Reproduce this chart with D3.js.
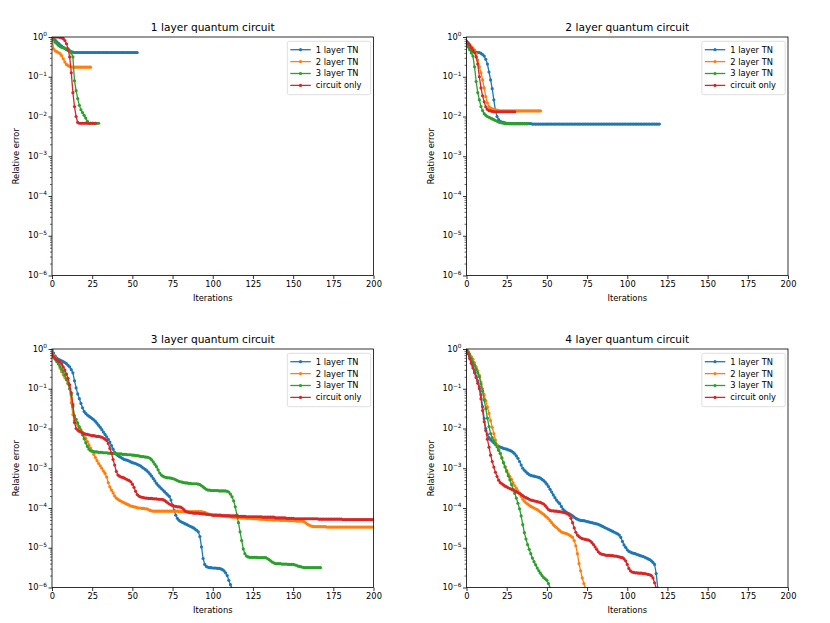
<!DOCTYPE html>
<html>
<head>
<meta charset="utf-8">
<script src="https://cdn.jsdelivr.net/npm/d3@7"></script>
<style>
body { margin: 0; background: #fff; }
text { font-family: "DejaVu Sans", sans-serif; fill: #000; }
</style>
</head>
<body>
<div id="chart"></div>
<script>
// log10 of relative error, one value per iteration (iteration = index)

// 1 layer quantum circuit
var p1_tn1 = [0,-0.04,-0.08,-0.12,-0.16,-0.2,-0.23,-0.26,-0.29,-0.32,-0.34,-0.36,-0.37,-0.38,
  -0.39,-0.39,-0.39,-0.39,-0.39,-0.39,-0.39,-0.39,-0.39,-0.39,-0.39,-0.39,-0.39,-0.39,-0.39,-0.39,
  -0.39,-0.39,-0.39,-0.39,-0.39,-0.39,-0.39,-0.39,-0.39,-0.39,-0.39,-0.39,-0.39,-0.39,-0.39,-0.39,
  -0.39,-0.39,-0.39,-0.39,-0.39,-0.39,-0.39,-0.39];
var p1_tn2 = [0,-0.3,-0.35,-0.37,-0.39,-0.42,-0.47,-0.55,-0.63,-0.69,-0.72,-0.74,-0.75,
  -0.76,-0.76,-0.76,-0.76,-0.76,-0.76,-0.76,-0.76,-0.76,-0.76,-0.76,-0.76];
var p1_tn3 = [0,-0.07,-0.13,-0.17,-0.21,-0.24,-0.26,-0.27,-0.28,-0.3,-0.32,-0.34,-0.4,-0.5,
  -1.1,-1.35,-1.55,-1.72,-1.83,-1.9,-1.97,-2.04,-2.12,-2.17,-2.17,-2.17,-2.17,-2.17,-2.17,-2.17];
var p1_circ = [0,0,0,0,0,-0.01,-0.02,-0.04,-0.09,-0.17,-0.3,-0.5,-0.9,-1.4,-1.75,-2.0,-2.15,
  -2.17,-2.17,-2.17,-2.17,-2.17,-2.17,-2.17,-2.17,-2.17,-2.17,-2.17];

// 2 layer quantum circuit
var p2_tn1 = [-0.12,-0.2,-0.27,-0.32,-0.36,-0.37,-0.38,-0.39,-0.39,-0.41,-0.44,-0.48,-0.56,-0.68,
  -0.88,-1.08,-1.3,-1.58,-1.85,-2.0,-2.08,-2.12,-2.14,-2.15,-2.16,-2.17,-2.17,-2.18,
  -2.18,-2.18,-2.18,-2.18,-2.18,-2.18,-2.18,-2.18,-2.18,-2.18,-2.18,-2.18,-2.18,
  -2.19,-2.19,-2.19,-2.19,-2.19,-2.19,-2.19,-2.19,-2.19,-2.19,-2.19,-2.19,-2.19,-2.19,-2.19,-2.19,
  -2.19,-2.19,-2.19,-2.19,-2.19,-2.19,-2.19,-2.19,-2.19,-2.19,-2.19,-2.19,-2.19,-2.19,-2.19,-2.19,
  -2.19,-2.19,-2.19,-2.19,-2.19,-2.19,-2.19,-2.19,-2.19,-2.19,-2.19,-2.19,-2.19,-2.19,-2.19,-2.19,
  -2.19,-2.19,-2.19,-2.19,-2.19,-2.19,-2.19,-2.19,-2.19,-2.19,-2.19,-2.19,-2.19,-2.19,-2.19,-2.19,
  -2.19,-2.19,-2.19,-2.19,-2.19,-2.19,-2.19,-2.19,-2.19,-2.19,-2.19,-2.19,-2.19,-2.19,-2.19,-2.19];
var p2_tn2 = [-0.1,-0.15,-0.2,-0.24,-0.28,-0.33,-0.42,-0.58,-0.75,-0.9,-1.08,-1.28,-1.5,-1.66,
  -1.75,-1.79,-1.81,-1.82,-1.83,-1.84,-1.85,-1.86,-1.86,-1.86,-1.86,-1.86,-1.86,-1.86,-1.86,
  -1.86,-1.86,-1.86,-1.86,-1.86,-1.86,-1.86,-1.86,-1.86,-1.86,-1.86,-1.86,-1.86,-1.86,-1.86,
  -1.86,-1.86,-1.86];
var p2_tn3 = [-0.15,-0.25,-0.32,-0.4,-0.48,-0.75,-1.12,-1.4,-1.58,-1.75,-1.85,-1.93,-1.97,-2.0,
  -2.02,-2.04,-2.06,-2.08,-2.1,-2.12,-2.14,-2.15,-2.16,-2.17,-2.18,-2.18,-2.18,-2.18,-2.18,
  -2.18,-2.18,-2.18,-2.18,-2.18,-2.18,-2.18,-2.18,-2.18,-2.18];
var p2_circ = [-0.1,-0.15,-0.2,-0.27,-0.33,-0.39,-0.5,-0.68,-1.0,-1.28,-1.48,-1.63,-1.76,-1.82,
  -1.85,-1.86,-1.87,-1.88,-1.88,-1.88,-1.88,-1.88,-1.88,-1.88,-1.88,-1.88,-1.88,-1.88,-1.88,
  -1.88,-1.88];

// 3 layer quantum circuit
var p3_tn1 = [-0.03,-0.1,-0.18,-0.23,-0.26,-0.28,-0.3,-0.32,-0.34,-0.37,-0.41,-0.45,-0.52,-0.6,
  -0.8,-0.98,-1.13,-1.25,-1.37,-1.48,-1.57,-1.62,-1.66,-1.69,-1.72,-1.75,-1.78,-1.82,-1.87,
  -1.92,-1.97,-2.03,-2.09,-2.15,-2.21,-2.27,-2.34,-2.43,-2.52,-2.6,-2.65,-2.68,-2.71,-2.73,
  -2.76,-2.78,-2.79,-2.8,-2.82,-2.84,-2.86,-2.87,-2.88,-2.9,-2.92,-2.94,-2.97,-3.0,-3.03,
  -3.06,-3.1,-3.15,-3.2,-3.26,-3.32,-3.38,-3.43,-3.47,-3.51,-3.55,-3.59,-3.63,-3.67,-3.71,
  -3.8,-3.93,-4.06,-4.18,-4.26,-4.31,-4.34,-4.36,-4.38,-4.4,-4.42,-4.44,-4.46,-4.48,-4.5,
  -4.53,-4.56,-4.6,-4.72,-4.98,-5.27,-5.42,-5.47,-5.49,-5.5,-5.5,-5.51,-5.51,-5.51,-5.52,
  -5.52,-5.53,-5.55,-5.58,-5.63,-5.7,-5.82,-5.93,-6.03];
var p3_tn2 = [-0.1,-0.15,-0.22,-0.29,-0.38,-0.48,-0.57,-0.65,-0.72,-0.78,-0.88,-1.0,-1.35,-1.65,
  -1.8,-1.86,-1.92,-1.98,-2.03,-2.1,-2.18,-2.25,-2.33,-2.41,-2.49,-2.57,-2.65,-2.73,-2.81,
  -2.88,-2.94,-3.0,-3.07,-3.13,-3.22,-3.36,-3.47,-3.55,-3.62,-3.7,-3.75,-3.78,-3.81,-3.83,
  -3.85,-3.87,-3.89,-3.91,-3.93,-3.95,-3.96,-3.97,-3.98,-3.99,-4.0,-4.0,-4.01,-4.01,-4.02,
  -4.02,-4.04,-4.06,-4.07,-4.08,
  -4.08,-4.08,-4.08,-4.08,-4.08,-4.08,-4.08,-4.08,-4.08,-4.08,-4.08,-4.08,-4.08,-4.08,-4.08,
  -4.09,-4.09,-4.09,-4.09,-4.09,-4.09,-4.09,-4.09,-4.09,-4.09,-4.09,-4.09,-4.09,-4.09,-4.09,
  -4.1,-4.11,-4.13,-4.15,-4.16,-4.17,-4.18,
  -4.18,-4.18,-4.19,-4.19,-4.2,-4.2,-4.21,-4.21,-4.22,-4.22,-4.22,-4.23,-4.23,-4.23,-4.24,-4.24,
  -4.25,-4.25,-4.25,-4.25,-4.26,-4.26,-4.26,-4.26,-4.27,-4.27,-4.27,-4.27,-4.28,-4.28,-4.28,-4.28,
  -4.29,-4.29,-4.29,-4.29,-4.3,-4.3,-4.3,-4.3,-4.3,-4.31,-4.31,-4.31,-4.31,-4.31,
  -4.32,-4.32,-4.32,-4.32,-4.32,-4.33,-4.33,-4.33,-4.33,-4.33,
  -4.35,-4.38,-4.41,-4.43,-4.45,-4.46,
  -4.47,-4.47,-4.47,-4.47,-4.47,-4.47,-4.47,-4.47,
  -4.48,-4.48,-4.48,-4.48,-4.48,-4.48,-4.48,-4.48,-4.48,-4.48,-4.48,-4.48,-4.48,-4.48,-4.48,
  -4.48,-4.48,-4.48,-4.48,-4.48,-4.48,-4.48,-4.48,-4.48,-4.48,-4.48,-4.48,-4.48,-4.48,-4.48];
var p3_tn3 = [-0.14,-0.2,-0.26,-0.32,-0.37,-0.44,-0.51,-0.57,-0.66,-0.76,-0.86,-1.0,-1.15,-1.45,
  -1.68,-1.77,-1.86,-1.96,-2.06,-2.16,-2.26,-2.36,-2.45,-2.52,-2.56,-2.57,-2.58,-2.59,-2.59,
  -2.6,-2.6,-2.6,-2.61,-2.61,-2.61,-2.62,-2.62,-2.62,-2.63,-2.63,-2.63,-2.64,-2.64,-2.64,
  -2.65,-2.65,-2.65,-2.66,-2.66,-2.66,-2.67,-2.67,-2.68,-2.68,-2.69,-2.7,-2.71,-2.71,-2.72,
  -2.72,-2.73,-2.75,-2.79,-2.84,-2.9,-2.96,-3.04,-3.12,-3.17,-3.2,-3.22,-3.23,-3.24,-3.24,
  -3.25,-3.26,-3.27,-3.29,-3.31,-3.33,-3.34,-3.35,-3.36,-3.37,-3.37,-3.38,-3.38,-3.39,-3.39,
  -3.39,-3.39,-3.4,-3.41,-3.44,-3.47,-3.5,-3.53,-3.55,-3.55,-3.56,-3.56,-3.56,-3.56,-3.56,
  -3.57,-3.57,-3.57,-3.57,-3.57,-3.58,-3.6,-3.65,-3.72,-3.82,-3.97,-4.17,-4.37,-4.6,-4.82,
  -5.03,-5.15,-5.21,-5.23,-5.24,
  -5.24,-5.24,-5.24,-5.24,-5.25,-5.25,-5.25,-5.25,-5.25,-5.25,
  -5.27,-5.3,-5.33,-5.36,-5.38,-5.4,
  -5.4,-5.4,-5.4,-5.41,-5.41,-5.41,-5.41,-5.42,-5.42,-5.42,-5.42,
  -5.43,-5.44,-5.46,-5.47,-5.48,-5.49,
  -5.5,-5.5,-5.5,-5.5,-5.5,-5.5,-5.5,-5.5,-5.5,-5.5,-5.5];
var p3_circ = [-0.11,-0.2,-0.24,-0.27,-0.3,-0.32,-0.38,-0.45,-0.53,-0.63,-0.74,-0.9,-1.1,-1.4,
  -1.85,-2.0,-2.04,-2.07,-2.09,-2.11,-2.13,-2.14,-2.15,-2.16,-2.17,-2.18,-2.18,-2.19,-2.2,
  -2.2,-2.21,-2.22,-2.24,-2.27,-2.3,-2.38,-2.5,-2.62,-2.78,-2.92,-3.08,-3.17,-3.2,-3.22,
  -3.23,-3.25,-3.27,-3.29,-3.31,-3.34,-3.4,-3.48,-3.58,-3.66,-3.7,-3.72,-3.73,-3.74,-3.75,
  -3.75,-3.76,-3.76,-3.76,-3.77,-3.77,-3.77,-3.78,-3.78,-3.78,-3.79,-3.81,-3.84,-3.87,-3.9,
  -3.92,-3.94,-3.95,-3.96,-3.97,-3.97,-3.98,-4.0,-4.04,-4.08,-4.1,-4.11,-4.12,-4.12,-4.13,
  -4.13,-4.13,-4.13,-4.14,-4.14,-4.15,-4.15,-4.16,-4.16,-4.17,-4.17,-4.18,
  -4.18,-4.18,-4.18,-4.18,-4.18,-4.19,-4.19,-4.19,-4.19,-4.19,
  -4.2,-4.2,-4.2,-4.2,-4.2,-4.21,-4.21,-4.21,-4.21,-4.21,
  -4.22,-4.22,-4.22,-4.22,-4.22,-4.22,-4.22,-4.22,-4.22,-4.22,
  -4.23,-4.23,-4.23,-4.23,-4.23,-4.23,-4.23,-4.23,
  -4.25,-4.25,-4.25,-4.25,-4.25,-4.25,-4.25,-4.26,-4.26,-4.26,-4.26,-4.26,
  -4.27,-4.27,-4.27,-4.27,-4.27,-4.27,-4.27,-4.27,-4.27,-4.27,-4.27,-4.27,-4.27,-4.27,-4.27,
  -4.28,-4.28,-4.28,-4.28,-4.28,-4.28,-4.28,-4.28,-4.28,-4.28,-4.28,-4.28,-4.28,-4.28,-4.28,
  -4.29,-4.29,-4.29,-4.29,-4.29,-4.29,-4.29,-4.29,-4.29,-4.29,
  -4.29,-4.29,-4.29,-4.29,-4.29,-4.29,-4.29,-4.29,-4.29,-4.29];

// 4 layer quantum circuit
var p4_tn1 = [0,-0.08,-0.18,-0.3,-0.42,-0.55,-0.68,-0.8,-0.95,-1.15,-1.45,-1.75,-2.0,-2.15,
  -2.23,-2.28,-2.32,-2.36,-2.4,-2.43,-2.45,-2.47,-2.48,-2.5,-2.51,-2.52,-2.54,-2.55,-2.57,
  -2.6,-2.64,-2.69,-2.75,-2.83,-2.92,-3.0,-3.05,-3.09,-3.13,-3.16,-3.18,-3.19,-3.2,-3.21,
  -3.22,-3.23,-3.25,-3.28,-3.31,-3.35,-3.4,-3.46,-3.53,-3.6,-3.67,-3.74,-3.8,-3.85,-3.89,
  -3.96,-4.03,-4.07,-4.1,-4.13,-4.15,-4.17,-4.2,-4.23,-4.26,-4.28,-4.3,-4.31,-4.32,-4.32,
  -4.33,-4.34,-4.35,-4.36,-4.37,-4.38,-4.39,-4.4,-4.41,-4.43,-4.45,-4.47,-4.49,-4.51,-4.53,
  -4.55,-4.57,-4.59,-4.61,-4.63,-4.65,-4.68,-4.74,-4.84,-4.93,-4.99,-5.05,-5.09,-5.11,-5.13,
  -5.14,-5.15,-5.17,-5.18,-5.2,-5.21,-5.22,-5.24,-5.26,-5.28,-5.3,-5.33,-5.37,-5.42,-5.65,
  -6.02];
var p4_tn2 = [0,-0.05,-0.12,-0.19,-0.26,-0.35,-0.45,-0.55,-0.66,-0.83,-1.0,-1.15,-1.3,-1.46,
  -1.62,-1.8,-1.97,-2.13,-2.29,-2.41,-2.52,-2.62,-2.74,-2.86,-2.96,-3.05,-3.14,-3.21,-3.28,
  -3.37,-3.44,-3.5,-3.57,-3.64,-3.71,-3.78,-3.83,-3.87,-3.9,-3.93,-3.96,-3.98,-4.0,-4.02,
  -4.04,-4.07,-4.1,-4.13,-4.16,-4.2,-4.23,-4.27,-4.32,-4.37,-4.42,-4.46,-4.49,-4.53,-4.57,
  -4.6,-4.62,-4.63,-4.64,-4.66,-4.68,-4.71,-4.74,-4.82,-4.95,-5.15,-5.4,-5.58,-5.76,-5.9,
  -6.02];
var p4_tn3 = [0,-0.08,-0.15,-0.24,-0.33,-0.41,-0.5,-0.6,-0.7,-0.88,-1.06,-1.28,-1.5,-1.74,
  -1.95,-2.13,-2.23,-2.31,-2.38,-2.46,-2.55,-2.63,-2.74,-2.86,-2.97,-3.08,-3.19,-3.29,-3.41,
  -3.53,-3.63,-3.75,-3.88,-4.02,-4.2,-4.42,-4.62,-4.78,-4.92,-5.04,-5.15,-5.26,-5.35,-5.43,
  -5.51,-5.58,-5.64,-5.7,-5.75,-5.78,-5.82,-5.9,-6.02];
var p4_circ = [-0.02,-0.12,-0.24,-0.36,-0.48,-0.6,-0.72,-0.86,-1.0,-1.25,-1.55,-1.83,-2.05,
  -2.27,-2.47,-2.67,-2.83,-2.97,-3.1,-3.21,-3.3,-3.36,-3.39,-3.42,-3.45,-3.47,-3.49,-3.51,
  -3.53,-3.55,-3.57,-3.59,-3.61,-3.63,-3.66,-3.69,-3.72,-3.74,-3.76,-3.78,-3.8,-3.81,-3.82,
  -3.83,-3.84,-3.85,-3.86,-3.88,-3.9,-3.94,-3.99,-4.04,-4.06,-4.07,-4.07,-4.08,-4.08,-4.09,
  -4.09,-4.1,-4.11,-4.12,-4.13,-4.15,-4.18,-4.26,-4.37,-4.5,-4.61,-4.68,-4.72,-4.75,-4.77,
  -4.78,-4.79,-4.8,-4.81,-4.83,-4.87,-4.92,-4.98,-5.04,-5.1,-5.14,-5.16,-5.17,-5.18,-5.19,
  -5.19,-5.19,-5.2,-5.2,-5.21,-5.21,-5.22,-5.23,-5.24,-5.25,-5.28,-5.33,-5.42,-5.52,-5.58,
  -5.61,-5.62,-5.63,-5.63,-5.64,-5.64,-5.64,-5.65,-5.65,-5.66,-5.67,-5.68,-5.7,-5.76,-5.88,
  -6.02];

var titles = ["1 layer quantum circuit", "2 layer quantum circuit",
              "3 layer quantum circuit", "4 layer quantum circuit"];
var seriesLabels = ["1 layer TN", "2 layer TN", "3 layer TN", "circuit only"];
var colors = ["#1f77b4", "#ff7f0e", "#2ca02c", "#d62728"];
var xTicks = [0, 25, 50, 75, 100, 125, 150, 175, 200];
var yDecades = [-6, -5, -4, -3, -2, -1, 0];

var panels = [
    [p1_tn1, p1_tn2, p1_tn3, p1_circ],
    [p2_tn1, p2_tn2, p2_tn3, p2_circ],
    [p3_tn1, p3_tn2, p3_tn3, p3_circ],
    [p4_tn1, p4_tn2, p4_tn3, p4_circ]
];

var W = 830, H = 623;
var width = 321.5, height = 238.5;
var origins = [[52, 37], [466.5, 37], [52, 349], [466.5, 349]];
var fontSize = 8.3;

var svg = d3.select("#chart").append("svg")
    .attr("width", W)
    .attr("height", H);

var x = d3.scaleLinear().domain([0, 200]).range([0, width]);
var y = d3.scaleLog().domain([1e-6, 1]).range([height, 0]);

var majorY = yDecades.map(function (e) { return Math.pow(10, e); });
var minorY = [];
for (var e = -6; e < 0; e++) {
    for (var m = 2; m <= 9; m++) minorY.push(m * Math.pow(10, e));
}

var valueline = d3.line()
    .x(function (d) { return x(d.i); })
    .y(function (d) { return y(d.v); });

panels.forEach(function (series, k) {
    var g = svg.append("g")
        .attr("transform", "translate(" + origins[k][0] + "," + origins[k][1] + ")");

    g.append("clipPath")
        .attr("id", "clip" + k)
        .append("rect")
        .attr("width", width)
        .attr("height", height);

    // minor y ticks
    g.append("g")
        .call(d3.axisLeft(y).tickValues(minorY).tickSize(2).tickFormat(""))
        .call(function (a) { a.select(".domain").remove(); })
        .selectAll("line").attr("stroke-width", 0.6);

    // major y ticks
    var ya = g.append("g")
        .call(d3.axisLeft(y).tickValues(majorY).tickSize(3.5).tickFormat(""));
    ya.select(".domain").remove();
    ya.selectAll("line").attr("stroke-width", 0.8);

    // y tick labels as 10^e
    yDecades.forEach(function (e) {
        var t = g.append("text")
            .attr("x", -5)
            .attr("y", y(Math.pow(10, e)))
            .attr("dy", "0.33em")
            .attr("text-anchor", "end")
            .style("font-size", fontSize + "px");
        t.append("tspan").text("10");
        t.append("tspan")
            .attr("dy", -3.6)
            .style("font-size", "5.8px")
            .text(e < 0 ? "\u2212" + (-e) : String(e));
    });

    // x axis
    var xa = g.append("g")
        .attr("transform", "translate(0," + height + ")")
        .call(d3.axisBottom(x).tickValues(xTicks).tickSize(3.5).tickPadding(2.5));
    xa.select(".domain").remove();
    xa.selectAll("line").attr("stroke-width", 0.8);
    xa.selectAll("text")
        .style("font-family", "DejaVu Sans")
        .style("font-size", fontSize + "px")
        .attr("fill", "#000");

    // data lines
    var plot = g.append("g").attr("clip-path", "url(#clip" + k + ")");
    series.forEach(function (vals, s) {
        var pts = vals.map(function (v, i) { return { i: i, v: Math.pow(10, v) }; });
        plot.append("path")
            .datum(pts)
            .attr("d", valueline)
            .attr("fill", "none")
            .attr("stroke", colors[s])
            .attr("stroke-width", 1.3);
        plot.append("g").selectAll("circle")
            .data(pts)
            .enter().append("circle")
            .attr("cx", function (d) { return x(d.i); })
            .attr("cy", function (d) { return y(d.v); })
            .attr("r", 1.6)
            .attr("fill", colors[s]);
    });

    // frame
    g.append("rect")
        .attr("width", width)
        .attr("height", height)
        .attr("fill", "none")
        .attr("stroke", "#000")
        .attr("stroke-width", 0.8);

    // title and axis labels
    g.append("text")
        .attr("x", width / 2)
        .attr("y", -6)
        .attr("text-anchor", "middle")
        .style("font-size", "10.6px")
        .text(titles[k]);

    g.append("text")
        .attr("x", width / 2)
        .attr("y", height + 25)
        .attr("text-anchor", "middle")
        .style("font-size", fontSize + "px")
        .text("Iterations");

    g.append("text")
        .attr("transform", "rotate(-90)")
        .attr("x", -height / 2)
        .attr("y", -33)
        .attr("text-anchor", "middle")
        .style("font-size", fontSize + "px")
        .text("Relative error");

    // legend
    var lg = g.append("g")
        .attr("transform", "translate(" + (width - 86.2) + ",4.3)");
    lg.append("rect")
        .attr("width", 83.4)
        .attr("height", 53.4)
        .attr("rx", 2)
        .attr("fill", "#fff")
        .attr("fill-opacity", 0.8)
        .attr("stroke", "#d6d6d6")
        .attr("stroke-width", 0.8);
    seriesLabels.forEach(function (lab, s) {
        var ly = 8.4 + s * 11.9;
        lg.append("line")
            .attr("x1", 3).attr("x2", 23.5)
            .attr("y1", ly).attr("y2", ly)
            .attr("stroke", colors[s])
            .attr("stroke-width", 1.3);
        lg.append("circle")
            .attr("cx", 13.2).attr("cy", ly)
            .attr("r", 1.6)
            .attr("fill", colors[s]);
        lg.append("text")
            .attr("x", 28.5)
            .attr("y", ly)
            .attr("dy", "0.35em")
            .style("font-size", fontSize + "px")
            .text(lab);
    });
});
</script>
</body>
</html>
